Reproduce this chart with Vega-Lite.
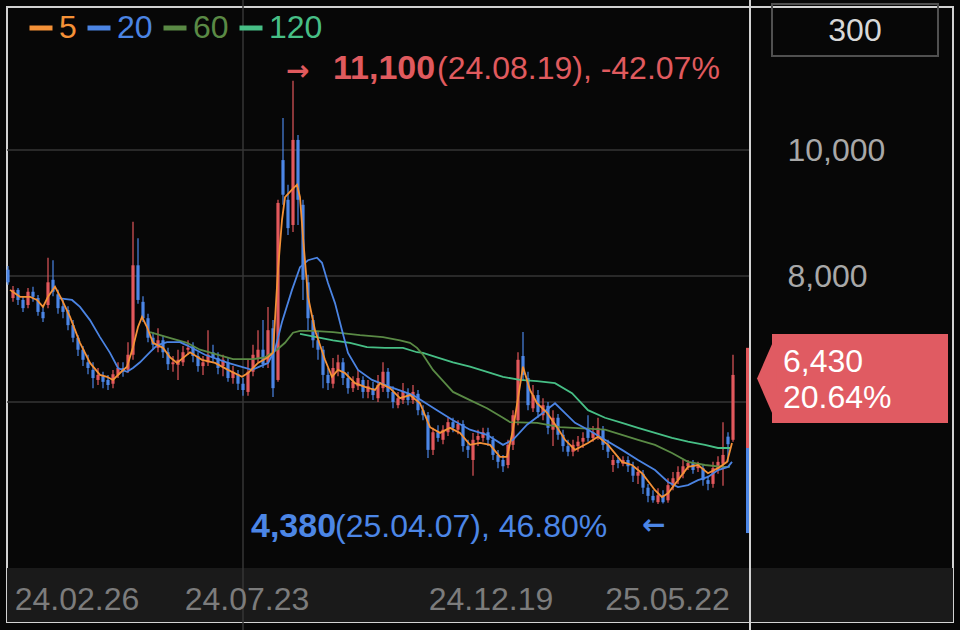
{
"$schema":"https://vega.github.io/schema/vega-lite/v6.json",
"width":946,"height":615,
"autosize":{"type":"none"},
"padding":{"left":7,"top":7,"right":7,"bottom":8},
"background":"#070707",
"view":{"fill":"#070707","stroke":"#d2d2d2","strokeWidth":2},
"config":{"font":"Liberation Sans"},
"datasets":{
"one":[{}],
"candles":[
{"i":0,"o":8100,"h":8160,"l":7860,"c":7900},{"i":1,"o":7650,"h":7840,"l":7590,"c":7780},{"i":2,"o":7780,"h":7810,"l":7540,"c":7620},{"i":3,"o":7620,"h":7680,"l":7430,"c":7490},{"i":4,"o":7540,"h":7810,"l":7490,"c":7750},
{"i":5,"o":7750,"h":7830,"l":7590,"c":7670},{"i":6,"o":7650,"h":7700,"l":7370,"c":7430},{"i":7,"o":7430,"h":7540,"l":7270,"c":7330},{"i":8,"o":7540,"h":8290,"l":7490,"c":7900},{"i":9,"o":7940,"h":8250,"l":7680,"c":7750},
{"i":10,"o":7710,"h":7780,"l":7400,"c":7490},{"i":11,"o":7520,"h":7620,"l":7330,"c":7430},{"i":12,"o":7460,"h":7520,"l":7140,"c":7220},{"i":13,"o":7220,"h":7300,"l":6950,"c":7020},{"i":14,"o":7020,"h":7060,"l":6730,"c":6830},
{"i":15,"o":6830,"h":6890,"l":6570,"c":6670},{"i":16,"o":6630,"h":6750,"l":6440,"c":6540},{"i":17,"o":6510,"h":6630,"l":6220,"c":6380},{"i":18,"o":6350,"h":6540,"l":6270,"c":6430},{"i":19,"o":6410,"h":6480,"l":6220,"c":6320},
{"i":20,"o":6350,"h":6430,"l":6190,"c":6270},{"i":21,"o":6290,"h":6510,"l":6220,"c":6440},{"i":22,"o":6430,"h":6630,"l":6380,"c":6540},{"i":23,"o":6540,"h":6630,"l":6400,"c":6480},{"i":24,"o":6510,"h":6950,"l":6460,"c":6750},
{"i":25,"o":6750,"h":8860,"l":6670,"c":8170},{"i":26,"o":8170,"h":8600,"l":7560,"c":7620},{"i":27,"o":7590,"h":7680,"l":7270,"c":7330},{"i":28,"o":7330,"h":7400,"l":6950,"c":7020},{"i":29,"o":7020,"h":7110,"l":6830,"c":6910},
{"i":30,"o":6860,"h":7170,"l":6790,"c":6980},{"i":31,"o":6980,"h":7050,"l":6700,"c":6790},{"i":32,"o":6790,"h":6860,"l":6510,"c":6600},{"i":33,"o":6600,"h":6730,"l":6480,"c":6630},{"i":34,"o":6590,"h":6830,"l":6350,"c":6670},
{"i":35,"o":6630,"h":6890,"l":6570,"c":6790},{"i":36,"o":6830,"h":6980,"l":6750,"c":6860},{"i":37,"o":6890,"h":6950,"l":6630,"c":6730},{"i":38,"o":6730,"h":6790,"l":6480,"c":6570},{"i":39,"o":6570,"h":6730,"l":6430,"c":6630},
{"i":40,"o":6630,"h":7140,"l":6570,"c":6750},{"i":41,"o":6790,"h":6910,"l":6630,"c":6700},{"i":42,"o":6700,"h":6790,"l":6440,"c":6540},{"i":43,"o":6570,"h":6750,"l":6410,"c":6670},{"i":44,"o":6630,"h":6700,"l":6320,"c":6380},
{"i":45,"o":6380,"h":6570,"l":6290,"c":6480},{"i":46,"o":6440,"h":6510,"l":6190,"c":6290},{"i":47,"o":6290,"h":6380,"l":6100,"c":6190},{"i":48,"o":6160,"h":6670,"l":6100,"c":6480},{"i":49,"o":6480,"h":6910,"l":6410,"c":6750},
{"i":50,"o":6700,"h":7140,"l":6630,"c":6830},{"i":51,"o":6830,"h":7300,"l":6540,"c":6600},{"i":52,"o":6630,"h":7510,"l":6540,"c":7140},{"i":53,"o":7170,"h":7300,"l":6080,"c":6220},{"i":54,"o":6350,"h":9210,"l":6320,"c":9160},
{"i":55,"o":9840,"h":10510,"l":9130,"c":9290},{"i":56,"o":9210,"h":9450,"l":8650,"c":8760},{"i":57,"o":8810,"h":11100,"l":8700,"c":10160},{"i":58,"o":10160,"h":10240,"l":8810,"c":9210},{"i":59,"o":9130,"h":9210,"l":7620,"c":7940},
{"i":60,"o":7900,"h":8020,"l":7140,"c":7330},{"i":61,"o":7300,"h":7380,"l":6860,"c":6980},{"i":62,"o":6980,"h":7110,"l":6670,"c":6830},{"i":63,"o":6830,"h":6890,"l":6220,"c":6430},{"i":64,"o":6430,"h":6540,"l":6190,"c":6300},
{"i":65,"o":6290,"h":6700,"l":6220,"c":6540},{"i":66,"o":6510,"h":6750,"l":6410,"c":6630},{"i":67,"o":6630,"h":6700,"l":6270,"c":6380},{"i":68,"o":6380,"h":6480,"l":6130,"c":6220},{"i":69,"o":6220,"h":6410,"l":6160,"c":6320},
{"i":70,"o":6250,"h":6510,"l":6190,"c":6380},{"i":71,"o":6350,"h":6410,"l":6060,"c":6160},{"i":72,"o":6160,"h":6350,"l":6060,"c":6250},{"i":73,"o":6220,"h":6320,"l":6030,"c":6110},{"i":74,"o":6060,"h":6430,"l":6000,"c":6270},
{"i":75,"o":6220,"h":6630,"l":6160,"c":6480},{"i":76,"o":6480,"h":6540,"l":6060,"c":6160},{"i":77,"o":6160,"h":6250,"l":5900,"c":6000},{"i":78,"o":5950,"h":6160,"l":5900,"c":6060},{"i":79,"o":6030,"h":6300,"l":5970,"c":6160},
{"i":80,"o":6130,"h":6220,"l":5950,"c":6030},{"i":81,"o":6030,"h":6270,"l":5970,"c":6160},{"i":82,"o":6130,"h":6190,"l":5790,"c":5870},{"i":83,"o":5870,"h":5950,"l":5710,"c":5790},{"i":84,"o":5790,"h":5840,"l":5110,"c":5240},
{"i":85,"o":5240,"h":5590,"l":5160,"c":5520},{"i":86,"o":5520,"h":5630,"l":5370,"c":5430},{"i":87,"o":5400,"h":5630,"l":5330,"c":5560},{"i":88,"o":5520,"h":5750,"l":5460,"c":5680},{"i":89,"o":5680,"h":5750,"l":5520,"c":5590},
{"i":90,"o":5560,"h":5710,"l":5490,"c":5650},{"i":91,"o":5650,"h":5710,"l":5210,"c":5300},{"i":92,"o":5300,"h":5400,"l":5110,"c":5240},{"i":93,"o":5080,"h":5510,"l":4830,"c":5400},{"i":94,"o":5400,"h":5560,"l":5300,"c":5460},
{"i":95,"o":5430,"h":5590,"l":5370,"c":5520},{"i":96,"o":5520,"h":5590,"l":5300,"c":5400},{"i":97,"o":5400,"h":5460,"l":5080,"c":5160},{"i":98,"o":5160,"h":5240,"l":4950,"c":5050},{"i":99,"o":5080,"h":5160,"l":4890,"c":4980},
{"i":100,"o":5000,"h":5400,"l":4950,"c":5320},{"i":101,"o":5320,"h":5870,"l":5240,"c":5790},{"i":102,"o":5710,"h":6790,"l":5630,"c":6670},{"i":103,"o":6730,"h":7110,"l":6350,"c":6430},{"i":104,"o":6380,"h":6480,"l":5870,"c":5950},
{"i":105,"o":5900,"h":6270,"l":5840,"c":6110},{"i":106,"o":6110,"h":6190,"l":5750,"c":5840},{"i":107,"o":5790,"h":6060,"l":5710,"c":5950},{"i":108,"o":5940,"h":6000,"l":5490,"c":5590},{"i":109,"o":5560,"h":5870,"l":5300,"c":5750},
{"i":110,"o":5750,"h":5810,"l":5400,"c":5480},{"i":111,"o":5480,"h":5560,"l":5210,"c":5300},{"i":112,"o":5300,"h":5400,"l":5140,"c":5210},{"i":113,"o":5210,"h":5400,"l":5140,"c":5320},{"i":114,"o":5300,"h":5460,"l":5210,"c":5370},
{"i":115,"o":5370,"h":5520,"l":5270,"c":5430},{"i":116,"o":5590,"h":5790,"l":5370,"c":5430},{"i":117,"o":5430,"h":5620,"l":5370,"c":5520},{"i":118,"o":5460,"h":5750,"l":5400,"c":5590},{"i":119,"o":5560,"h":5620,"l":5240,"c":5320},
{"i":120,"o":5320,"h":5400,"l":5110,"c":5210},{"i":121,"o":5000,"h":5160,"l":4890,"c":5080},{"i":122,"o":5080,"h":5140,"l":4950,"c":5030},{"i":123,"o":5020,"h":5140,"l":4980,"c":5080},{"i":124,"o":5080,"h":5140,"l":4890,"c":4980},
{"i":125,"o":4980,"h":5050,"l":4730,"c":4830},{"i":126,"o":4830,"h":4980,"l":4700,"c":4890},{"i":127,"o":4860,"h":4920,"l":4540,"c":4640},{"i":128,"o":4640,"h":4700,"l":4410,"c":4510},{"i":129,"o":4510,"h":4600,"l":4400,"c":4440},
{"i":130,"o":4410,"h":4630,"l":4380,"c":4520},{"i":131,"o":4520,"h":4600,"l":4390,"c":4410},{"i":132,"o":4440,"h":4790,"l":4400,"c":4680},{"i":133,"o":4670,"h":4890,"l":4600,"c":4790},{"i":134,"o":4760,"h":4980,"l":4700,"c":4890},
{"i":135,"o":4860,"h":5080,"l":4790,"c":4980},{"i":136,"o":4980,"h":5080,"l":4920,"c":5030},{"i":137,"o":5030,"h":5080,"l":4860,"c":4920},{"i":138,"o":4950,"h":5050,"l":4890,"c":4980},{"i":139,"o":4950,"h":5000,"l":4670,"c":4760},
{"i":140,"o":4760,"h":4830,"l":4600,"c":4700},{"i":141,"o":4700,"h":5050,"l":4640,"c":4950},{"i":142,"o":4920,"h":5140,"l":4860,"c":5050},{"i":143,"o":5020,"h":5680,"l":4670,"c":5160},{"i":144,"o":5450,"h":5520,"l":5050,"c":5330},
{"i":145,"o":5400,"h":6750,"l":5370,"c":6430}
],
"ma":[
{"s":"120","i":58.4,"v":7080},{"s":"120","i":65.0,"v":6980},{"s":"120","i":68.4,"v":6940},{"s":"120","i":71.8,"v":6870},{"s":"120","i":75.4,"v":6860},{"s":"120","i":79.0,"v":6860},{"s":"120","i":81.8,"v":6790},{"s":"120","i":83.0,"v":6780},{"s":"120","i":85.8,"v":6710},{"s":"120","i":89.0,"v":6630},{"s":"120","i":92.4,"v":6560},{"s":"120","i":95.8,"v":6480},{"s":"120","i":99.0,"v":6400},{"s":"120","i":102.4,"v":6350},{"s":"120","i":105.8,"v":6330},{"s":"120","i":109.4,"v":6300},{"s":"120","i":112.8,"v":6140},{"s":"120","i":116.0,"v":5870},{"s":"120","i":119.4,"v":5750},{"s":"120","i":122.8,"v":5670},{"s":"120","i":126.0,"v":5590},{"s":"120","i":129.4,"v":5510},{"s":"120","i":132.8,"v":5430},{"s":"120","i":136.0,"v":5370},{"s":"120","i":139.4,"v":5320},{"s":"120","i":142.0,"v":5270},{"s":"120","i":144.4,"v":5270},
{"s":"60","i":28.4,"v":7110},{"s":"60","i":31.8,"v":7030},{"s":"60","i":35.8,"v":6940},{"s":"60","i":38.4,"v":6830},{"s":"60","i":45.0,"v":6680},{"s":"60","i":49.0,"v":6680},{"s":"60","i":51.4,"v":6710},{"s":"60","i":53.8,"v":6830},{"s":"60","i":55.4,"v":6940},{"s":"60","i":57.0,"v":7100},{"s":"60","i":58.4,"v":7130},{"s":"60","i":61.0,"v":7130},{"s":"60","i":65.0,"v":7110},{"s":"60","i":70.4,"v":7060},{"s":"60","i":75.0,"v":7030},{"s":"60","i":78.4,"v":6980},{"s":"60","i":80.4,"v":6940},{"s":"60","i":81.8,"v":6860},{"s":"60","i":83.0,"v":6750},{"s":"60","i":85.0,"v":6510},{"s":"60","i":87.4,"v":6300},{"s":"60","i":89.0,"v":6160},{"s":"60","i":92.4,"v":6030},{"s":"60","i":95.8,"v":5900},{"s":"60","i":99.0,"v":5750},{"s":"60","i":100.4,"v":5680},{"s":"60","i":105.8,"v":5670},{"s":"60","i":110.4,"v":5600},{"s":"60","i":119.4,"v":5560},{"s":"60","i":122.8,"v":5480},{"s":"60","i":126.0,"v":5400},{"s":"60","i":129.4,"v":5320},{"s":"60","i":132.8,"v":5190},{"s":"60","i":136.0,"v":5050},{"s":"60","i":139.4,"v":5000},{"s":"60","i":142.8,"v":4970},{"s":"60","i":144.4,"v":4970},
{"s":"20","i":10.0,"v":7650},{"s":"20","i":12.8,"v":7620},{"s":"20","i":14.4,"v":7510},{"s":"20","i":16.4,"v":7300},{"s":"20","i":18.4,"v":7030},{"s":"20","i":20.4,"v":6780},{"s":"20","i":22.0,"v":6540},{"s":"20","i":23.8,"v":6480},{"s":"20","i":25.0,"v":6540},{"s":"20","i":26.4,"v":6630},{"s":"20","i":28.4,"v":6790},{"s":"20","i":29.8,"v":6900},{"s":"20","i":31.8,"v":6950},{"s":"20","i":34.4,"v":6950},{"s":"20","i":35.8,"v":6900},{"s":"20","i":39.4,"v":6750},{"s":"20","i":44.0,"v":6620},{"s":"20","i":48.8,"v":6510},{"s":"20","i":52.0,"v":6620},{"s":"20","i":53.4,"v":6830},{"s":"20","i":54.8,"v":7270},{"s":"20","i":56.8,"v":7780},{"s":"20","i":58.4,"v":8140},{"s":"20","i":60.0,"v":8250},{"s":"20","i":61.8,"v":8290},{"s":"20","i":62.8,"v":8210},{"s":"20","i":64.0,"v":7890},{"s":"20","i":65.4,"v":7570},{"s":"20","i":66.8,"v":7140},{"s":"20","i":68.0,"v":6780},{"s":"20","i":70.0,"v":6510},{"s":"20","i":72.8,"v":6350},{"s":"20","i":76.4,"v":6240},{"s":"20","i":81.0,"v":6110},{"s":"20","i":85.8,"v":5870},{"s":"20","i":89.0,"v":5710},{"s":"20","i":92.4,"v":5560},{"s":"20","i":95.8,"v":5480},{"s":"20","i":99.0,"v":5320},{"s":"20","i":101.0,"v":5400},{"s":"20","i":103.8,"v":5640},{"s":"20","i":107.0,"v":5830},{"s":"20","i":109.4,"v":5980},{"s":"20","i":113.4,"v":5670},{"s":"20","i":116.0,"v":5560},{"s":"20","i":119.4,"v":5400},{"s":"20","i":122.8,"v":5240},{"s":"20","i":126.0,"v":5080},{"s":"20","i":129.4,"v":4920},{"s":"20","i":132.0,"v":4730},{"s":"20","i":134.0,"v":4650},{"s":"20","i":136.0,"v":4680},{"s":"20","i":138.0,"v":4760},{"s":"20","i":140.0,"v":4810},{"s":"20","i":142.0,"v":4920},{"s":"20","i":144.0,"v":4970},{"s":"20","i":144.8,"v":5050},
{"s":"5","i":0.4,"v":7780},{"s":"5","i":2.4,"v":7670},{"s":"5","i":4.4,"v":7670},{"s":"5","i":5.8,"v":7620},{"s":"5","i":7.0,"v":7510},{"s":"5","i":8.0,"v":7670},{"s":"5","i":9.4,"v":7830},{"s":"5","i":10.8,"v":7620},{"s":"5","i":12.4,"v":7350},{"s":"5","i":14.4,"v":6940},{"s":"5","i":16.4,"v":6620},{"s":"5","i":18.4,"v":6430},{"s":"5","i":19.8,"v":6400},{"s":"5","i":21.0,"v":6350},{"s":"5","i":22.4,"v":6460},{"s":"5","i":23.8,"v":6560},{"s":"5","i":25.0,"v":6870},{"s":"5","i":26.0,"v":7190},{"s":"5","i":26.8,"v":7350},{"s":"5","i":27.8,"v":7190},{"s":"5","i":29.0,"v":6940},{"s":"5","i":31.0,"v":6860},{"s":"5","i":32.4,"v":6710},{"s":"5","i":33.8,"v":6620},{"s":"5","i":36.4,"v":6790},{"s":"5","i":38.8,"v":6670},{"s":"5","i":41.4,"v":6620},{"s":"5","i":44.0,"v":6510},{"s":"5","i":46.8,"v":6400},{"s":"5","i":48.0,"v":6460},{"s":"5","i":50.0,"v":6620},{"s":"5","i":52.0,"v":6710},{"s":"5","i":53.0,"v":6780},{"s":"5","i":54.0,"v":8100},{"s":"5","i":54.8,"v":8890},{"s":"5","i":55.4,"v":9250},{"s":"5","i":56.8,"v":9370},{"s":"5","i":57.8,"v":9450},{"s":"5","i":58.4,"v":9250},{"s":"5","i":59.0,"v":8620},{"s":"5","i":60.0,"v":7670},{"s":"5","i":61.4,"v":7140},{"s":"5","i":63.4,"v":6670},{"s":"5","i":64.8,"v":6400},{"s":"5","i":66.0,"v":6510},{"s":"5","i":67.4,"v":6460},{"s":"5","i":69.4,"v":6300},{"s":"5","i":71.4,"v":6240},{"s":"5","i":73.4,"v":6190},{"s":"5","i":74.4,"v":6300},{"s":"5","i":76.4,"v":6220},{"s":"5","i":78.4,"v":6060},{"s":"5","i":80.4,"v":6110},{"s":"5","i":82.4,"v":5980},{"s":"5","i":84.4,"v":5600},{"s":"5","i":86.4,"v":5510},{"s":"5","i":88.4,"v":5590},{"s":"5","i":90.4,"v":5510},{"s":"5","i":92.4,"v":5320},{"s":"5","i":94.4,"v":5350},{"s":"5","i":96.4,"v":5320},{"s":"5","i":98.4,"v":5130},{"s":"5","i":99.8,"v":5130},{"s":"5","i":101.0,"v":5560},{"s":"5","i":103.0,"v":6560},{"s":"5","i":104.4,"v":6190},{"s":"5","i":105.8,"v":5980},{"s":"5","i":107.8,"v":5830},{"s":"5","i":109.8,"v":5600},{"s":"5","i":111.4,"v":5400},{"s":"5","i":113.4,"v":5240},{"s":"5","i":116.0,"v":5350},{"s":"5","i":118.0,"v":5450},{"s":"5","i":120.0,"v":5320},{"s":"5","i":122.8,"v":5050},{"s":"5","i":124.8,"v":5000},{"s":"5","i":126.8,"v":4870},{"s":"5","i":129.4,"v":4600},{"s":"5","i":130.8,"v":4490},{"s":"5","i":132.0,"v":4550},{"s":"5","i":134.0,"v":4760},{"s":"5","i":136.0,"v":4970},{"s":"5","i":138.0,"v":5000},{"s":"5","i":140.0,"v":4870},{"s":"5","i":142.0,"v":4950},{"s":"5","i":143.8,"v":5050},{"s":"5","i":144.8,"v":5350}
],
"grid":[{"g":6000},{"g":8000},{"g":10000}],
"side":[{"k":"up","lo":5270,"hi":6860},{"k":"down","lo":3920,"hi":5270}]
},
"layer":[
{"data":{"name":"one"},"mark":{"type":"rect","color":"#1a1a1a"},
 "encoding":{"y":{"datum":3365,"type":"quantitative","scale":{"domain":[2508,12270],"nice":false,"zero":false}},"y2":{"datum":2508}}},
{"data":{"name":"grid"},"mark":{"type":"rule","color":"#363636","strokeWidth":1.5},
 "encoding":{"x":{"datum":-0.2,"type":"quantitative","scale":{"domain":[-0.2,189],"nice":false,"zero":false}},"x2":{"datum":148.4},
  "y":{"field":"g","type":"quantitative","scale":{"domain":[2508,12270],"nice":false,"zero":false}}}},
{"data":{"name":"one"},"mark":{"type":"rule","color":"#363636","strokeWidth":1.5,"clip":false},
 "encoding":{"x":{"datum":47,"type":"quantitative","scale":{"domain":[-0.2,189],"nice":false,"zero":false}},
  "y":{"datum":12381,"type":"quantitative","scale":{"domain":[2508,12270],"nice":false,"zero":false}},"y2":{"datum":2381}}},
{"data":{"name":"candles"},"mark":{"type":"rule","strokeWidth":1.2},
 "encoding":{"x":{"field":"i","type":"quantitative","scale":{"domain":[-0.2,189],"nice":false,"zero":false},
   "axis":{"values":[13.7,47.7,96.5,131.8],"labelExpr":"datum.value < 20 ? '24.02.26' : datum.value < 60 ? '24.07.23' : datum.value < 110 ? '24.12.19' : '25.05.22'","grid":false,"domain":false,"ticks":false,"tickSize":0,"labelPadding":-13,"labelBaseline":"alphabetic","labelAlign":"center","labelFontSize":32,"labelColor":"#7c7c7c","labelOverlap":false,"labelFlush":false,"title":null,"zindex":1}},
  "y":{"field":"l","type":"quantitative","scale":{"domain":[2508,12270],"nice":false,"zero":false},
   "axis":{"orient":"right","values":[8000,10000],"format":",d","grid":false,"domain":false,"ticks":false,"tickSize":0,"labelPadding":-166,"labelAlign":"left","labelBaseline":"middle","labelFontSize":32,"labelColor":"#a8a8a8","title":null,"zindex":1}},
  "y2":{"field":"h"},
  "color":{"condition":{"test":"datum.c >= datum.o","value":"#e2585c"},"value":"#4c86e6"}}},
{"data":{"name":"candles"},"mark":{"type":"rule","strokeWidth":3.2},
 "encoding":{"x":{"field":"i","type":"quantitative","scale":{"domain":[-0.2,189],"nice":false,"zero":false}},
  "y":{"field":"o","type":"quantitative","scale":{"domain":[2508,12270],"nice":false,"zero":false}},
  "y2":{"field":"c"},
  "color":{"condition":{"test":"datum.c >= datum.o","value":"#e2585c"},"value":"#4c86e6"}}},
{"data":{"name":"ma"},"mark":{"type":"line","strokeWidth":1.8},
 "encoding":{"x":{"field":"i","type":"quantitative","scale":{"domain":[-0.2,189],"nice":false,"zero":false}},
  "y":{"field":"v","type":"quantitative","scale":{"domain":[2508,12270],"nice":false,"zero":false}},
  "color":{"field":"s","type":"nominal","scale":{"domain":["5","20","60","120"],"range":["#f49137","#4b84e3","#5a8a45","#47bf86"]},
   "legend":{"orient":"none","legendX":18,"legendY":5,"direction":"horizontal","title":null,"symbolType":"stroke","symbolSize":529,"symbolStrokeWidth":5,"labelFontSize":32,"labelOffset":2,"columnPadding":0,"padding":0,"labelLimit":0,
    "encode":{"labels":{"update":{"fill":{"signal":"scale('color', datum.value)"}}}}}}}},
{"data":{"name":"one"},"mark":{"type":"rule","color":"#d2d2d2","strokeWidth":2,"clip":false},
 "encoding":{"x":{"datum":148.4,"type":"quantitative","scale":{"domain":[-0.2,189],"nice":false,"zero":false}},
  "y":{"datum":12381,"type":"quantitative","scale":{"domain":[2508,12270],"nice":false,"zero":false}},"y2":{"datum":2381}}},
{"data":{"name":"side"},"mark":{"type":"rule","strokeWidth":3},
 "encoding":{"x":{"datum":147.9,"type":"quantitative","scale":{"domain":[-0.2,189],"nice":false,"zero":false}},
  "y":{"field":"lo","type":"quantitative","scale":{"domain":[2508,12270],"nice":false,"zero":false}},"y2":{"field":"hi"},
  "color":{"condition":{"test":"datum.k == 'up'","value":"#e2585c"},"value":"#4c86e6"}}},
{"data":{"name":"one"},"mark":{"type":"rect","color":"#e05b62"},
 "encoding":{"x":{"datum":152.8,"type":"quantitative","scale":{"domain":[-0.2,189],"nice":false,"zero":false}},"x2":{"datum":188.0},
  "y":{"datum":7080,"type":"quantitative","scale":{"domain":[2508,12270],"nice":false,"zero":false}},"y2":{"datum":5667}}},
{"data":{"name":"one"},"mark":{"type":"point","shape":"M 0.1 -1 L -0.337 0 L 0.1 1 Z","filled":true,"opacity":1,"color":"#e05b62","size":7921,"strokeWidth":0},
 "encoding":{"x":{"datum":152.8,"type":"quantitative","scale":{"domain":[-0.2,189],"nice":false,"zero":false}},
  "y":{"datum":6373,"type":"quantitative","scale":{"domain":[2508,12270],"nice":false,"zero":false}}}},
{"data":{"name":"one"},"mark":{"type":"text","text":"6,430","align":"left","baseline":"alphabetic","fontSize":32,"color":"#ffffff"},
 "encoding":{"x":{"datum":155.0,"type":"quantitative","scale":{"domain":[-0.2,189],"nice":false,"zero":false}},
  "y":{"datum":6480,"type":"quantitative","scale":{"domain":[2508,12270],"nice":false,"zero":false}}}},
{"data":{"name":"one"},"mark":{"type":"text","text":"20.64%","align":"left","baseline":"alphabetic","fontSize":32,"color":"#ffffff"},
 "encoding":{"x":{"datum":155.0,"type":"quantitative","scale":{"domain":[-0.2,189],"nice":false,"zero":false}},
  "y":{"datum":5905,"type":"quantitative","scale":{"domain":[2508,12270],"nice":false,"zero":false}}}},
{"data":{"name":"one"},"mark":{"type":"rect","filled":false,"stroke":"#505050","strokeWidth":2,"clip":false},
 "encoding":{"x":{"datum":152.8,"type":"quantitative","scale":{"domain":[-0.2,189],"nice":false,"zero":false}},"x2":{"datum":186.0},
  "y":{"datum":12318,"type":"quantitative","scale":{"domain":[2508,12270],"nice":false,"zero":false}},"y2":{"datum":11492}}},
{"data":{"name":"one"},"mark":{"type":"text","text":"300","align":"center","baseline":"alphabetic","fontSize":32,"color":"#d8d8d8"},
 "encoding":{"x":{"datum":169.4,"type":"quantitative","scale":{"domain":[-0.2,189],"nice":false,"zero":false}},
  "y":{"datum":11730,"type":"quantitative","scale":{"domain":[2508,12270],"nice":false,"zero":false}}}},
{"data":{"name":"one"},"mark":{"type":"text","text":"→","align":"left","baseline":"alphabetic","fontSize":28,"fontWeight":"bold","font":"DejaVu Sans","color":"#e05a5e"},
 "encoding":{"x":{"datum":55.6,"type":"quantitative","scale":{"domain":[-0.2,189],"nice":false,"zero":false}},
  "y":{"datum":11110,"type":"quantitative","scale":{"domain":[2508,12270],"nice":false,"zero":false}}}},
{"data":{"name":"one"},"mark":{"type":"text","text":"11,100","align":"left","baseline":"alphabetic","fontSize":34,"fontWeight":"bold","color":"#e05a5e"},
 "encoding":{"x":{"datum":65.0,"type":"quantitative","scale":{"domain":[-0.2,189],"nice":false,"zero":false}},
  "y":{"datum":11130,"type":"quantitative","scale":{"domain":[2508,12270],"nice":false,"zero":false}}}},
{"data":{"name":"one"},"mark":{"type":"text","text":"(24.08.19), -42.07%","align":"left","baseline":"alphabetic","fontSize":32,"color":"#e05a5e"},
 "encoding":{"x":{"datum":85.8,"type":"quantitative","scale":{"domain":[-0.2,189],"nice":false,"zero":false}},
  "y":{"datum":11130,"type":"quantitative","scale":{"domain":[2508,12270],"nice":false,"zero":false}}}},
{"data":{"name":"one"},"mark":{"type":"text","text":"4,380","align":"left","baseline":"alphabetic","fontSize":34,"fontWeight":"bold","color":"#4c86e6"},
 "encoding":{"x":{"datum":48.6,"type":"quantitative","scale":{"domain":[-0.2,189],"nice":false,"zero":false}},
  "y":{"datum":3860,"type":"quantitative","scale":{"domain":[2508,12270],"nice":false,"zero":false}}}},
{"data":{"name":"one"},"mark":{"type":"text","text":"(25.04.07), 46.80%","align":"left","baseline":"alphabetic","fontSize":32,"color":"#4c86e6"},
 "encoding":{"x":{"datum":65.4,"type":"quantitative","scale":{"domain":[-0.2,189],"nice":false,"zero":false}},
  "y":{"datum":3860,"type":"quantitative","scale":{"domain":[2508,12270],"nice":false,"zero":false}}}},
{"data":{"name":"one"},"mark":{"type":"text","text":"←","align":"left","baseline":"alphabetic","fontSize":28,"fontWeight":"bold","font":"DejaVu Sans","color":"#4c86e6"},
 "encoding":{"x":{"datum":126.8,"type":"quantitative","scale":{"domain":[-0.2,189],"nice":false,"zero":false}},
  "y":{"datum":3900,"type":"quantitative","scale":{"domain":[2508,12270],"nice":false,"zero":false}}}}
]
}
